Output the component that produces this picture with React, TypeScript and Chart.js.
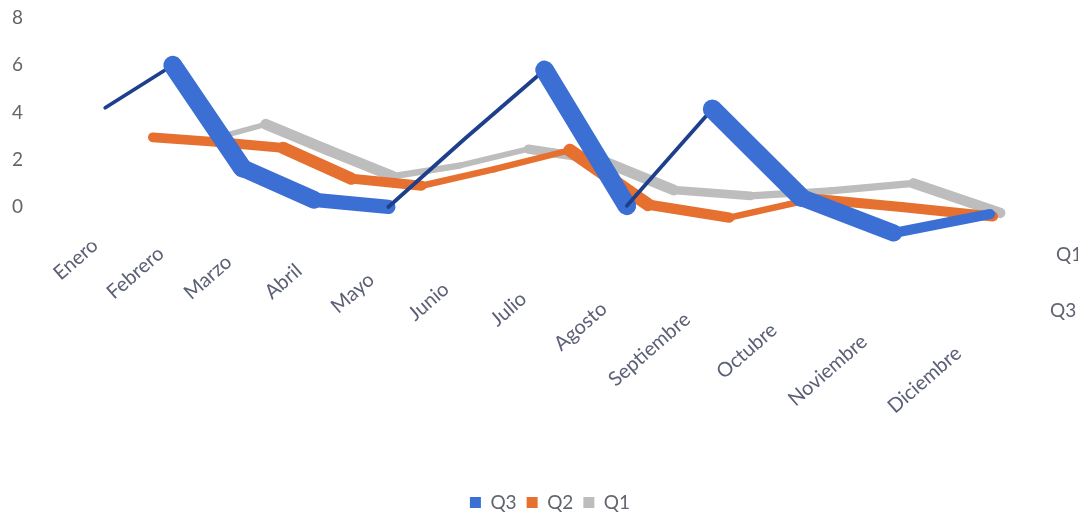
import React, { useEffect, useRef } from 'react';
import { Chart, registerables, LogarithmicScale } from 'chart.js';

// Log scale whose tick labels follow the tilted (perspective) floor of the 3-D chart
class PerspectiveLogScale extends (LogarithmicScale as any) {
  static id = 'perspectiveLog';
  static defaults = (LogarithmicScale as any).defaults;
  _computeLabelItems(chartArea: any) {
    const items = super._computeLabelItems(chartArea);
    const opts: any = (this as any).options;
    const tilt = opts.labelTilt ?? 0;
    const shift = opts.labelShift ?? 0;
    if (items.length) {
      const x0 = items[0].options.translation[0];
      items.forEach((it: any) => {
        it.options.translation[1] += shift + tilt * (it.options.translation[0] - x0);
      });
    }
    return items;
  }
}

Chart.register(...registerables, PerspectiveLogScale as any);

// ---- data ----
const months = ['Enero', 'Febrero', 'Marzo', 'Abril', 'Mayo', 'Junio', 'Julio', 'Agosto', 'Septiembre', 'Octubre', 'Noviembre', 'Diciembre'];
const seriesNames = ['Q3', 'Q2', 'Q1'];
const q3 = [4.2, 6.0, 1.65, 0.3, 0.0, 2.9, 5.8, 0.05, 4.15, 0.4, -1.1, -0.3];
const q2 = [2.95, 2.75, 2.5, 1.2, 0.9, 1.6, 2.4, 0.1, -0.45, 0.35, 0.0, -0.4];
const q1 = [2.8, 3.5, 2.4, 1.3, 1.75, 2.45, 2.0, 0.72, 0.47, 0.68, 1.0, -0.25];
const yTicks = [0, 2, 4, 6, 8];
const depthLabels = ['Q1', 'Q3'];

// ---- style ----
const FONT = 'Lato, "Open Sans", sans-serif';
const W = 1070;
const H = 514;
const PERSP = 33.8; // perspective constant: category i is placed at (PERSP - i) on reversed log axes
const colors = { Q3: '#3b6fd3', Q2: '#e6702f', Q1: '#bdbdbd' };
const darks = { Q3: '#1d3f8c', Q2: '#c4561c', Q1: '#9c9c9c' };

function ribbonWidth(dX: number, dY: number, minW: number) {
  return (ctx: any) => {
    const dx = ctx.p1.x - ctx.p0.x;
    const dy = ctx.p1.y - ctx.p0.y;
    const len = Math.hypot(dx, dy) || 1;
    return Math.max(minW, Math.abs((dx * dY - dy * dX) / len));
  };
}
function ribbonColor(dX: number, dY: number, minW: number, base: string, dark: string, th: number) {
  const f = ribbonWidth(dX, dY, minW);
  return (ctx: any) => (f(ctx) < th ? dark : base);
}

const toPoints = (vals: number[]) => vals.map((y, i) => ({ x: PERSP - i, y }));

export default function App() {
  const ref = useRef<HTMLCanvasElement | null>(null);

  useEffect(() => {
    if (!ref.current) return;
    const depthPlugin = {
      id: 'depthLabels',
      afterDraw(chart: any) {
        const { ctx, chartArea } = chart;
        ctx.save();
        ctx.font = `19px ${FONT}`;
        ctx.fillStyle = '#5f6370';
        ctx.textAlign = 'left';
        ctx.textBaseline = 'middle';
        ctx.fillText(depthLabels[0], chartArea.right + 46, chartArea.bottom + 12);
        ctx.fillText(depthLabels[1], chartArea.right + 40, chartArea.bottom + 68);
        ctx.restore();
      },
    };

    const mk = (name: string, vals: number[], axis: string, dX: number, dY: number, minW: number, th: number) => ({
      label: name,
      data: toPoints(vals),
      xAxisID: axis,
      borderColor: (colors as any)[name],
      backgroundColor: (colors as any)[name],
      borderWidth: Math.abs(dY),
      pointRadius: 0,
      fill: false,
      tension: 0,
      borderCapStyle: 'round',
      borderJoinStyle: 'round',
      segment: {
        borderWidth: ribbonWidth(dX, dY, minW),
        borderColor: ribbonColor(dX, dY, minW, (colors as any)[name], (darks as any)[name], th),
      },
    });

    const hiddenLog = (min: number, max: number) => ({
      type: 'logarithmic',
      display: false,
      reverse: true,
      bounds: 'data',
      min,
      max,
    });

    const chart = new Chart(ref.current, {
      type: 'line',
      data: {
        datasets: [
          mk(seriesNames[0], q3, 'xQ3', 14, -13, 3.8, 6),
          mk(seriesNames[1], q2, 'xQ2', 10, -9, 3.5, 5),
          mk(seriesNames[2], q1, 'xQ1', 9, -8, 3.5, 5),
        ] as any,
      },
      options: {
        responsive: false,
        animation: false,
        events: [],
        layout: { padding: { top: 10, left: 4, right: 68, bottom: 0 } },
        scales: {
          x: {
            type: 'perspectiveLog',
            reverse: true,
            bounds: 'data',
            min: 22.27,
            max: 33.88,
            position: 'bottom',
            labelTilt: 0.125,
            labelShift: -17,
            grid: { display: false },
            border: { display: false },
            afterBuildTicks: (s: any) => {
              s.ticks = months.map((_, i) => ({ value: PERSP - i }));
            },
            afterFit: (s: any) => {
              s.height = 240.6;
            },
            ticks: {
              autoSkip: false,
              minRotation: 41,
              maxRotation: 41,
              padding: 0,
              color: '#5b6076',
              font: { family: FONT, size: 20 },
              callback: (v: any) => {
                const i = Math.round(PERSP - Number(v));
                return months[i] ?? '';
              },
            },
          },
          xQ3: hiddenLog(22.60, 34.03),
          xQ2: hiddenLog(22.62, 34.81),
          xQ1: hiddenLog(22.69, 35.78),
          y: {
            type: 'linear',
            min: -1.5,
            max: 8,
            grid: { display: false },
            border: { display: false },
            afterBuildTicks: (s: any) => {
              s.ticks = yTicks.map((v) => ({ value: v }));
            },
            afterFit: (s: any) => {
              s.width = 78;
            },
            ticks: {
              padding: 0,
              crossAlign: 'far',
              color: '#62646e',
              font: { family: FONT, size: 19, lineHeight: 1 },
            },
          },
        } as any,
        plugins: {
          legend: {
            position: 'bottom',
            fullSize: false,
            labels: {
              boxWidth: 11,
              boxHeight: 11,
              padding: 10,
              color: '#62646e',
              font: { family: FONT, size: 19 },
              generateLabels: (chart: any) =>
                Chart.defaults.plugins.legend.labels.generateLabels(chart).map((it: any) => ({
                  ...it,
                  lineWidth: 0,
                  fillStyle: (colors as any)[it.text],
                  strokeStyle: (colors as any)[it.text],
                })),
            },
          },
          tooltip: { enabled: false },
        },
      },
      plugins: [depthPlugin],
    } as any);

    return () => chart.destroy();
  }, []);

  return (
    <div style={{ width: W, height: H }}>
      <canvas ref={ref} width={W} height={H} />
    </div>
  );
}
